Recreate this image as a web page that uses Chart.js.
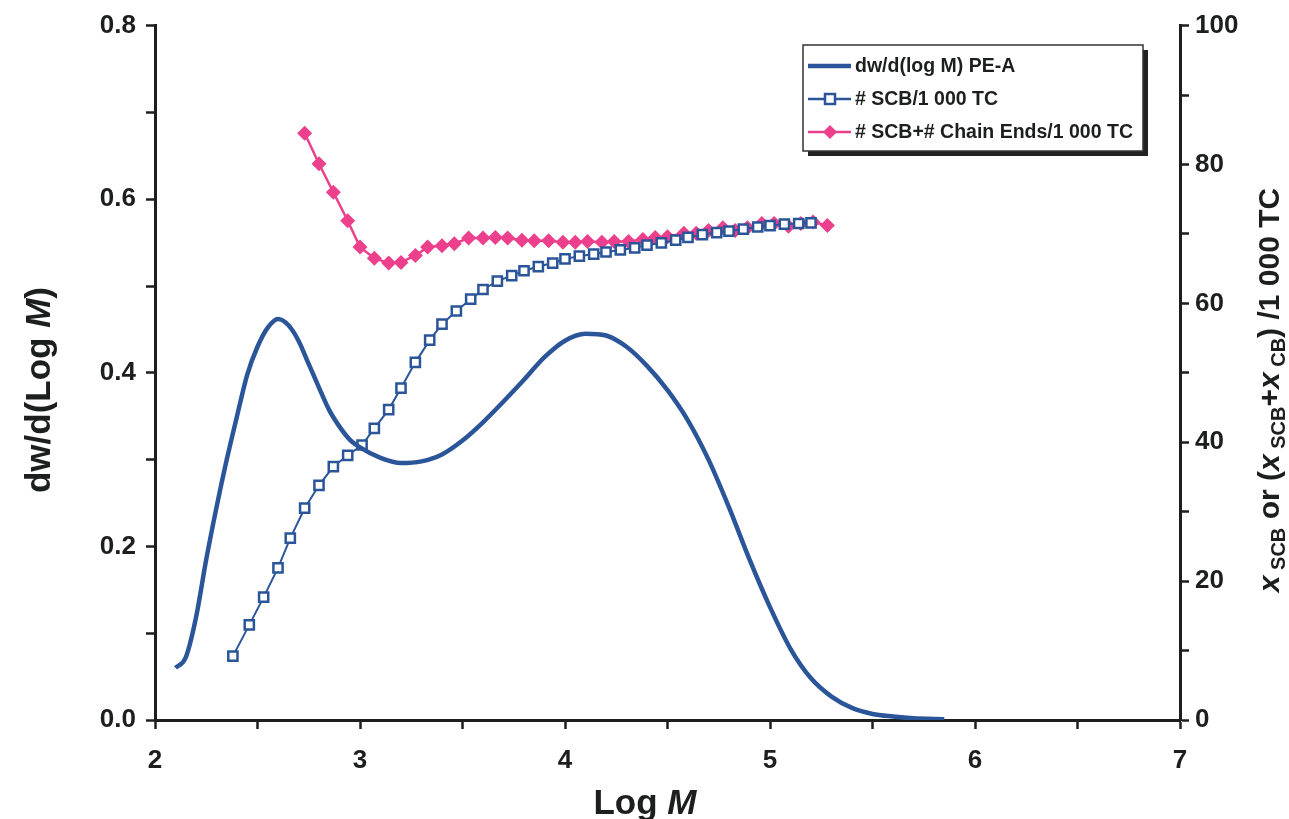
<!DOCTYPE html>
<html>
<head>
<meta charset="utf-8">
<script src="https://cdn.jsdelivr.net/npm/chart.js@4/dist/chart.umd.min.js"></script>
<style>
  body { margin: 0; background: #ffffff; }
  canvas { display: block; }
</style>
</head>
<body>
<canvas id="mwdChart" width="1289" height="819"></canvas>
<script>
// -------- DATA ---------------
const distLogM = [2.10, 2.15, 2.20, 2.25, 2.30, 2.35, 2.40, 2.45, 2.50, 2.55, 2.60, 2.65, 2.70, 2.75, 2.80, 2.85, 2.90, 2.95, 3.00,
                  3.10, 3.20, 3.30, 3.40, 3.50, 3.60, 3.70, 3.80, 3.90, 4.00, 4.10, 4.20, 4.30, 4.40, 4.50, 4.60, 4.70, 4.80,
                  4.90, 5.00, 5.10, 5.20, 5.30, 5.40, 5.50, 5.60, 5.70, 5.85];
const distValues = [0.060, 0.072, 0.118, 0.185, 0.245, 0.300, 0.350, 0.398, 0.430, 0.452, 0.462, 0.455, 0.437, 0.410, 0.383, 0.357, 0.338, 0.323, 0.314,
                    0.302, 0.296, 0.298, 0.306, 0.322, 0.343, 0.367, 0.392, 0.418, 0.437, 0.445, 0.443, 0.430, 0.408, 0.380, 0.345, 0.300, 0.245,
                    0.185, 0.130, 0.082, 0.048, 0.027, 0.014, 0.007, 0.004, 0.002, 0.001];

const scbLogM = [2.38, 2.46, 2.53, 2.60, 2.66, 2.73, 2.80, 2.87, 2.94, 3.01, 3.07, 3.14, 3.20, 3.27, 3.34, 3.40, 3.47, 3.54, 3.60, 3.67,
                 3.74, 3.80, 3.87, 3.94, 4.00, 4.07, 4.14, 4.20, 4.27, 4.34, 4.40, 4.47, 4.54, 4.60, 4.67, 4.74, 4.80, 4.87, 4.94,
                 5.00, 5.07, 5.14, 5.20];
const scbValues = [9.2, 13.7, 17.7, 21.9, 26.2, 30.5, 33.8, 36.5, 38.1, 39.6, 42.0, 44.7, 47.8, 51.5, 54.7, 57.0, 58.9, 60.6, 62.0, 63.2,
                   64.0, 64.7, 65.3, 65.8, 66.4, 66.8, 67.1, 67.4, 67.7, 68.0, 68.4, 68.7, 69.1, 69.5, 69.9, 70.2, 70.4, 70.7, 71.0,
                   71.2, 71.4, 71.5, 71.6];

const totalLogM = [2.73, 2.80, 2.87, 2.94, 3.00, 3.07, 3.14, 3.20, 3.27, 3.33, 3.40, 3.46, 3.53, 3.60, 3.66, 3.72, 3.79, 3.85, 3.92, 3.99,
                   4.05, 4.11, 4.18, 4.24, 4.31, 4.38, 4.44, 4.50, 4.58, 4.64, 4.70, 4.77, 4.83, 4.89, 4.96, 5.02, 5.09, 5.15, 5.21, 5.28];
const totalValues = [84.5, 80.1, 76.0, 71.9, 68.1, 66.5, 65.8, 65.9, 66.9, 68.1, 68.3, 68.6, 69.4, 69.4, 69.5, 69.4, 69.1, 69.0, 69.0, 68.8,
                     68.8, 68.9, 68.8, 68.9, 68.9, 69.2, 69.5, 69.6, 70.1, 70.1, 70.5, 70.9, 70.5, 70.9, 71.5, 71.5, 71.1, 71.5, 71.7, 71.2];

const seriesLabels = ["dw/d(log M) PE-A", "# SCB/1 000 TC", "# SCB+# Chain Ends/1 000 TC"];

// -------- STYLE ---------------
const blue = "#2a5699";
const pink = "#ec3f8c";
const ink = "#1c1f1e";
const fontFam = "'Liberation Sans', Arial, sans-serif";

const toPoints = (xs, ys) => xs.map((x, i) => ({ x: x, y: ys[i] }));

// ------------ AXIS TITLES + LEGEND BOX -----------------
function drawRich(ctx, parts, cx, cy, angle, size) {
    ctx.save();
    ctx.translate(cx, cy);
    ctx.rotate(angle);
    ctx.textBaseline = "alphabetic";
    ctx.fillStyle = ink;
    const fontOf = p => (p.italic ? "italic " : "") + "bold " + (p.sub ? Math.round(size * 0.66) : size) + "px " + fontFam;
    let total = 0;
    parts.forEach(p => { ctx.font = fontOf(p); total += ctx.measureText(p.text).width; });
    let x = -total / 2;
    const base = size * 0.36;
    parts.forEach(p => {
        ctx.font = fontOf(p);
        ctx.fillText(p.text, x, base + (p.sub ? size * 0.22 : 0));
        x += ctx.measureText(p.text).width;
    });
    ctx.restore();
}

const decorPlugin = {
    id: "decor",
    afterDraw(chart) {
        const ctx = chart.ctx;

        // axis titles
        drawRich(ctx, [{ text: "Log " }, { text: "M", italic: true }], 645, 801, 0, 35);
        drawRich(ctx, [{ text: "dw/d(Log " }, { text: "M", italic: true }, { text: ")" }],
                 37, 390, -Math.PI / 2, 35);
        drawRich(ctx, [
            { text: "x", italic: true }, { text: " SCB", sub: true }, { text: " or (" },
            { text: "x", italic: true }, { text: " SCB", sub: true }, { text: "+" },
            { text: "x", italic: true }, { text: " CB", sub: true }, { text: ") /1 000 TC" }
        ], 1268, 390, -Math.PI / 2, 30);

        // legend box with shadow
        const bx = 803, by = 45, bw = 340, bh = 106;
        ctx.save();
        ctx.fillStyle = "#222";
        ctx.fillRect(bx + 5, by + 5, bw, bh);
        ctx.fillStyle = "#fff";
        ctx.fillRect(bx, by, bw, bh);
        ctx.strokeStyle = "#333";
        ctx.lineWidth = 1.5;
        ctx.strokeRect(bx, by, bw, bh);

        const rows = [66, 99, 132];
        const sx0 = 808, sx1 = 851, mx = 830;
        chart.data.datasets.forEach((ds, i) => {
            const y = rows[i];
            ctx.strokeStyle = ds.borderColor;
            ctx.lineWidth = i === 0 ? 4.5 : 2.5;
            ctx.beginPath();
            ctx.moveTo(sx0, y);
            ctx.lineTo(sx1, y);
            ctx.stroke();
            if (i === 1) {
                ctx.fillStyle = "#fff";
                ctx.fillRect(mx - 5, y - 5, 10, 10);
                ctx.lineWidth = 2.5;
                ctx.strokeRect(mx - 5, y - 5, 10, 10);
            } else if (i === 2) {
                ctx.fillStyle = pink;
                ctx.beginPath();
                ctx.moveTo(mx, y - 7);
                ctx.lineTo(mx + 7, y);
                ctx.lineTo(mx, y + 7);
                ctx.lineTo(mx - 7, y);
                ctx.closePath();
                ctx.fill();
            }
            ctx.fillStyle = ink;
            ctx.font = "bold 19.5px " + fontFam;
            ctx.textBaseline = "middle";
            ctx.fillText(ds.label, 855, y + 1);
        });
        ctx.restore();
    }
};

// ------------ CHART -----------------
const tickFont = { family: fontFam, size: 26, weight: "bold" };

new Chart(document.getElementById("mwdChart"), {
    type: "line",
    data: {
        datasets: [
            {
                label: seriesLabels[0],
                data: toPoints(distLogM, distValues),
                yAxisID: "y",
                borderColor: blue,
                borderWidth: 4.5,
                pointRadius: 0,
                cubicInterpolationMode: "monotone",
                fill: false
            },
            {
                label: seriesLabels[1],
                data: toPoints(scbLogM, scbValues),
                yAxisID: "y1",
                borderColor: blue,
                borderWidth: 2,
                pointStyle: "rect",
                pointRadius: 6.5,
                pointBorderWidth: 2.5,
                pointBackgroundColor: "#ffffff",
                pointBorderColor: blue,
                fill: false
            },
            {
                label: seriesLabels[2],
                data: toPoints(totalLogM, totalValues),
                yAxisID: "y1",
                borderColor: pink,
                borderWidth: 2.5,
                pointStyle: "rectRot",
                pointRadius: 7.5,
                pointBorderWidth: 0,
                pointBackgroundColor: pink,
                fill: false
            }
        ]
    },
    options: {
        responsive: false,
        animation: false,
        layout: { padding: { top: 25, left: 0, right: 0, bottom: 0 } },
        plugins: {
            legend: { display: false },
            tooltip: { enabled: false }
        },
        scales: {
            x: {
                type: "linear",
                min: 2,
                max: 7,
                afterFit: scale => { scale.height = 99; },
                border: { display: true, color: ink, width: 3 },
                grid: { drawOnChartArea: false, drawTicks: true, tickLength: 9, tickWidth: 2.5, tickColor: ink },
                ticks: {
                    stepSize: 0.5,
                    autoSkip: false,
                    maxRotation: 0,
                    padding: 16,
                    color: ink,
                    font: tickFont,
                    callback: v => (Math.abs(v - Math.round(v)) < 1e-6 ? String(Math.round(v)) : "")
                }
            },
            y: {
                position: "left",
                min: 0,
                max: 0.8,
                afterFit: scale => { scale.width = 155; },
                border: { display: true, color: ink, width: 3 },
                grid: { drawOnChartArea: false, drawTicks: true, tickLength: 9, tickWidth: 2.5, tickColor: ink },
                ticks: {
                    stepSize: 0.1,
                    autoSkip: false,
                    padding: 10,
                    color: ink,
                    font: tickFont,
                    callback: v => (Math.round(v * 10) % 2 === 0 ? v.toFixed(1) : "")
                }
            },
            y1: {
                position: "right",
                min: 0,
                max: 100,
                afterFit: scale => { scale.width = 109; },
                border: { display: true, color: ink, width: 3 },
                grid: { drawOnChartArea: false, drawTicks: true, tickLength: 9, tickWidth: 2.5, tickColor: ink },
                ticks: {
                    stepSize: 10,
                    autoSkip: false,
                    padding: 6,
                    color: ink,
                    font: tickFont,
                    callback: v => (Math.round(v) % 20 === 0 ? String(Math.round(v)) : "")
                }
            }
        }
    },
    plugins: [decorPlugin]
});
</script>
</body>
</html>
